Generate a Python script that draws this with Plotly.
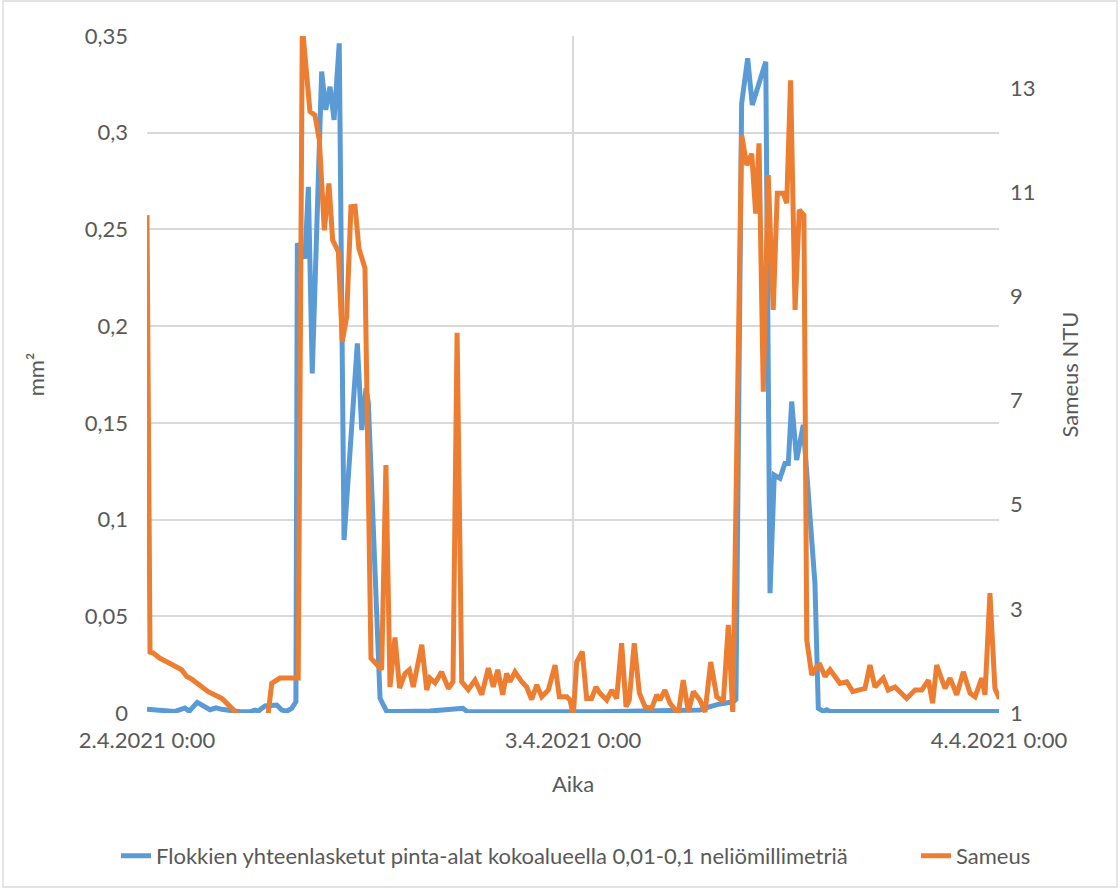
import pandas as pd
import plotly.graph_objects as go

START = pd.Timestamp("2021-04-02 00:00")

# Flokkien yhteenlasketut pinta-alat (mm²) — hours from 2.4.2021 0:00
blue_hours = [0.00, 1.58, 2.14, 2.38, 2.83, 3.55, 3.89, 4.21, 5.24, 5.80, 6.08, 6.27, 6.65, 7.31,
              7.59, 7.87, 8.15, 8.39, 8.47, 8.90, 9.09, 9.31, 9.84, 10.07, 10.31, 10.54, 10.83,
              11.10, 11.85, 12.10, 12.34, 12.47, 13.13, 13.50, 14.25, 15.94, 17.80, 18.03, 19.89,
              22.14, 22.42, 25.52, 28.34, 31.15, 31.72, 32.28, 33.03, 33.18, 33.50, 33.84, 34.10,
              34.86, 35.10, 35.34, 35.66, 35.94, 36.13, 36.32, 36.60, 36.97, 37.63, 37.82, 38.10,
              38.29, 38.48, 40.73, 43.55, 46.37, 46.65, 48.11]
blue_values = [0.0019, 0.0008, 0.0026, 0.0009, 0.0055, 0.0017, 0.0027, 0.0019, 0.0006, 0.0006,
               0.0015, 0.0010, 0.0036, 0.0041, 0.0015, 0.0009, 0.0024, 0.0058, 0.2428, 0.2350,
               0.2720, 0.1756, 0.3316, 0.3118, 0.3238, 0.3066, 0.3462, 0.0894, 0.1911, 0.1463,
               0.1679, 0.1603, 0.0076, 0.0009, 0.0008, 0.0010, 0.0024, 0.0008, 0.0007, 0.0012,
               0.0007, 0.0007, 0.0008, 0.0015, 0.0033, 0.0047, 0.0058, 0.0070, 0.3150, 0.3385,
               0.3143, 0.3367, 0.0619, 0.1230, 0.1213, 0.1290, 0.1290, 0.1610, 0.1308, 0.1489,
               0.0670, 0.0024, 0.0009, 0.0017, 0.0008, 0.0008, 0.0008, 0.0012, 0.0008, 0.0008]

# Sameus (NTU) — hours from 2.4.2021 0:00
orange_hours = [0.00, 0.17, 0.35, 0.73, 1.30, 1.95, 2.24, 2.52, 3.45, 4.21, 4.49, 5.05, 5.24, 6.65,
                6.83, 7.03, 7.49, 8.52, 8.75, 9.18, 9.46, 9.71, 9.99, 10.25, 10.46, 10.78, 11.00,
                11.25, 11.49, 11.72, 11.94, 12.28, 12.62, 13.22, 13.46, 13.69, 13.97, 14.23, 14.54,
                14.78, 15.00, 15.48, 15.76, 15.94, 16.23, 16.60, 16.98, 17.17, 17.24, 17.47, 17.73,
                18.10, 18.48, 18.86, 19.23, 19.51, 19.76, 20.04, 20.26, 20.45, 20.73, 21.11, 21.39,
                21.67, 21.96, 22.24, 22.61, 22.99, 23.23, 23.65, 23.83, 24.02, 24.21, 24.52, 24.77,
                25.05, 25.30, 25.52, 25.90, 26.18, 26.46, 26.74, 26.99, 27.17, 27.45, 27.74, 28.06,
                28.43, 28.72, 28.90, 29.18, 29.46, 29.75, 29.93, 30.21, 30.50, 30.78, 31.15, 31.44,
                31.76, 32.10, 32.47, 32.75, 33.00, 33.50, 33.79, 34.07, 34.29, 34.48, 34.72, 35.00,
                35.28, 35.51, 35.85, 36.04, 36.26, 36.51, 36.75, 37.01, 37.17, 37.45, 37.73, 37.92,
                38.20, 38.48, 38.76, 39.04, 39.42, 39.76, 40.07, 40.45, 40.73, 41.01, 41.48, 41.76,
                42.14, 42.42, 42.80, 43.27, 43.65, 44.02, 44.26, 44.49, 44.96, 45.24, 45.62, 45.99,
                46.37, 46.65, 47.03, 47.21, 47.49, 47.77, 48.02, 48.15]
orange_values = [10.56, 2.17, 2.15, 2.05, 1.95, 1.83, 1.70, 1.65, 1.41, 1.28, 1.19, 1.00, 0.80, 0.80,
                 1.00, 1.57, 1.67, 1.67, 14.20, 12.55, 12.48, 12.00, 10.27, 11.17, 10.08, 9.86, 8.13,
                 8.61, 10.72, 10.73, 9.92, 9.54, 2.05, 1.83, 5.76, 1.50, 2.45, 1.48, 1.76,
                 1.83, 1.50, 2.31, 1.44, 1.67, 1.58, 1.79, 1.47, 1.57, 1.60, 8.30, 1.60,
                 1.45, 1.63, 1.35, 1.86, 1.50, 1.83, 1.35, 1.76, 1.60, 1.79, 1.60, 1.50,
                 1.26, 1.54, 1.31, 1.44, 1.92, 1.31, 1.31, 1.25, 0.96, 1.98, 2.18, 1.28,
                 1.28, 1.50, 1.38, 1.25, 1.44, 1.28, 2.34, 1.12, 1.25, 2.34, 1.38, 1.12,
                 1.09, 1.35, 1.25, 1.44, 1.19, 1.06, 0.99, 1.63, 1.02, 1.41, 1.25, 1.02,
                 1.98, 1.31, 1.22, 2.69, 1.02, 12.10, 11.52, 11.74, 10.59, 11.94, 7.17, 11.33,
                 8.74, 10.98, 10.98, 10.79, 13.15, 8.74, 10.66, 10.56, 2.40, 1.73, 1.89, 1.92,
                 1.70, 1.83, 1.70, 1.57, 1.60, 1.41, 1.44, 1.47, 1.92, 1.50, 1.67, 1.44,
                 1.50, 1.41, 1.28, 1.44, 1.44, 1.63, 1.19, 1.92, 1.47, 1.67, 1.35, 1.79,
                 1.38, 1.31, 1.67, 1.35, 3.30, 1.47, 1.28, 1.41]

x_tick_hours = [0, 24, 48]
x_tick_labels = ["2.4.2021 0:00", "3.4.2021 0:00", "4.4.2021 0:00"]
y1_tick_vals = [0, 0.05, 0.1, 0.15, 0.2, 0.25, 0.3, 0.35]
y1_tick_labels = ["0", "0,05", "0,1", "0,15", "0,2", "0,25", "0,3", "0,35"]
y2_tick_vals = [1, 3, 5, 7, 9, 11, 13]

blue_name = "Flokkien yhteenlasketut pinta-alat kokoalueella 0,01-0,1 neliömillimetriä"
orange_name = "Sameus"

def to_time(hours):
    return START + pd.to_timedelta(hours, unit="h")

FONT = "Lato, Carlito, Calibri, sans-serif"
TXT = "#595959"
GRID = "#d9d9d9"
FS = 22

fig = go.Figure()
fig.add_trace(go.Scatter(x=to_time(blue_hours), y=blue_values, mode="lines", name=blue_name,
                         line=dict(color="#5B9BD5", width=5), yaxis="y", legend="legend"))
fig.add_trace(go.Scatter(x=to_time(orange_hours), y=orange_values, mode="lines", name=orange_name,
                         line=dict(color="#ED7D31", width=5), yaxis="y2", legend="legend2"))

fig.update_layout(
    width=1120, height=890,
    margin=dict(l=147, r=121, t=36, b=177),
    paper_bgcolor="white", plot_bgcolor="white",
    font=dict(family=FONT, size=FS, color=TXT),
    xaxis=dict(
        type="date", range=[to_time(0), to_time(48)],
        tickvals=list(to_time(x_tick_hours)), ticktext=x_tick_labels,
        showgrid=True, gridcolor=GRID, gridwidth=1.5,
        showline=False, zeroline=False, ticks="", ticklabelstandoff=12,
        title=dict(text="Aika", font=dict(size=FS, color=TXT), standoff=24),
    ),
    yaxis=dict(
        range=[0, 0.35], tickvals=y1_tick_vals, ticktext=y1_tick_labels,
        showgrid=True, gridcolor=GRID, gridwidth=1.5, zeroline=False, showline=False,
        ticks="", ticklabelstandoff=18,
        title=dict(text="mm²", font=dict(size=FS, color=TXT), standoff=34),
    ),
    yaxis2=dict(
        range=[1, 14], tickvals=y2_tick_vals, overlaying="y", side="right",
        showgrid=False, zeroline=False, showline=False, ticks="", ticklabelstandoff=10,
        title=dict(text="Sameus NTU", font=dict(size=FS, color=TXT), standoff=28),
    ),
    legend=dict(orientation="h", x=(116 - 147) / 852, xanchor="left", y=-0.18, yanchor="top",
                font=dict(size=FS, color=TXT), bgcolor="rgba(0,0,0,0)"),
    legend2=dict(orientation="h", x=(916 - 147) / 852, xanchor="left", y=-0.18, yanchor="top",
                 font=dict(size=FS, color=TXT), bgcolor="rgba(0,0,0,0)"),
    showlegend=True,
)

fig.add_shape(type="rect", xref="paper", yref="paper",
              x0=(3 - 147) / 852, x1=(1117 - 147) / 852,
              y0=(713 - 887) / 677, y1=(713 - 1) / 677,
              line=dict(color="#d9d9d9", width=1.3), fillcolor="rgba(0,0,0,0)", layer="below")

fig.write_html("out.html")
